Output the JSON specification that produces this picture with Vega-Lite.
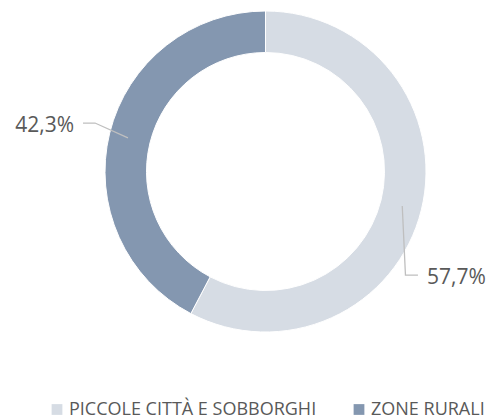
{
  "$schema": "https://vega.github.io/schema/vega-lite/v6.json",
  "width": 447,
  "height": 343,
  "autosize": "none",
  "padding": {"left": 42, "top": 0, "right": 0, "bottom": 76},
  "background": "#ffffff",
  "config": {"view": {"stroke": null}},
  "datasets": {
    "slices": [
      {"categoria": "PICCOLE CITTÀ E SOBBORGHI", "valore": 57.7, "ord": 1},
      {"categoria": "ZONE RURALI", "valore": 42.3, "ord": 2}
    ],
    "leaders": [
      {"linea": "a", "seq": 1, "x": -1.137, "y": 0.302},
      {"linea": "a", "seq": 2, "x": -1.062, "y": 0.302},
      {"linea": "a", "seq": 3, "x": -0.857, "y": 0.209},
      {"linea": "b", "seq": 1, "x": 0.852, "y": -0.215},
      {"linea": "b", "seq": 2, "x": 0.872, "y": -0.645},
      {"linea": "b", "seq": 3, "x": 0.950, "y": -0.645}
    ],
    "labelsLeft": [
      {"testo": "42,3%", "x": -1.193, "y": 0.246}
    ],
    "labelsRight": [
      {"testo": "57,7%", "x": 1.006, "y": -0.701}
    ]
  },
  "layer": [
    {
      "data": {"name": "slices"},
      "mark": {"type": "arc", "radius": 160.5, "innerRadius": 119, "stroke": "#ffffff", "strokeWidth": 1},
      "encoding": {
        "theta": {"field": "valore", "type": "quantitative", "stack": true},
        "order": {"field": "ord", "type": "quantitative"},
        "color": {
          "field": "categoria",
          "type": "nominal",
          "scale": {"domain": ["PICCOLE CITTÀ E SOBBORGHI", "ZONE RURALI"], "range": ["#D6DCE4", "#8497B0"]},
          "legend": {
            "title": null,
            "orient": "none",
            "direction": "horizontal",
            "legendX": 6,
            "legendY": 400.5,
            "padding": 0,
            "symbolType": "square",
            "symbolSize": 116,
            "symbolStrokeWidth": 0,
            "symbolOpacity": 1,
            "labelFont": "Open Sans",
            "labelFontSize": 18,
            "labelColor": "#595959",
            "labelOffset": 3,
            "labelLimit": 400,
            "columnPadding": 33
          }
        }
      }
    },
    {
      "data": {"name": "leaders"},
      "mark": {"type": "line", "color": "#BFBFBF", "strokeWidth": 1.3},
      "encoding": {
        "x": {"field": "x", "type": "quantitative", "scale": {"domain": [-1.3925, 1.3925], "nice": false, "zero": false}, "axis": null},
        "y": {"field": "y", "type": "quantitative", "scale": {"domain": [-1.0685, 1.0685], "nice": false, "zero": false}, "axis": null},
        "detail": {"field": "linea", "type": "nominal"},
        "order": {"field": "seq", "type": "quantitative"}
      }
    },
    {
      "data": {"name": "labelsLeft"},
      "mark": {"type": "text", "font": "Open Sans", "fontSize": 21, "color": "#595959", "baseline": "alphabetic", "align": "right"},
      "encoding": {
        "x": {"field": "x", "type": "quantitative", "scale": {"domain": [-1.3925, 1.3925], "nice": false, "zero": false}, "axis": null},
        "y": {"field": "y", "type": "quantitative", "scale": {"domain": [-1.0685, 1.0685], "nice": false, "zero": false}, "axis": null},
        "text": {"field": "testo", "type": "nominal"}
      }
    },
    {
      "data": {"name": "labelsRight"},
      "mark": {"type": "text", "font": "Open Sans", "fontSize": 21, "color": "#595959", "baseline": "alphabetic", "align": "left"},
      "encoding": {
        "x": {"field": "x", "type": "quantitative", "scale": {"domain": [-1.3925, 1.3925], "nice": false, "zero": false}, "axis": null},
        "y": {"field": "y", "type": "quantitative", "scale": {"domain": [-1.0685, 1.0685], "nice": false, "zero": false}, "axis": null},
        "text": {"field": "testo", "type": "nominal"}
      }
    }
  ]
}
